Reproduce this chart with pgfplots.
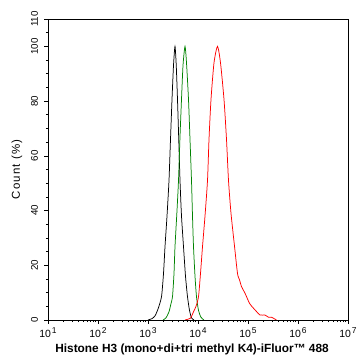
\documentclass[border=0pt]{standalone}
\usepackage{fontspec}
\setmainfont{Liberation Sans}
\usepackage{pgfplots}
\pgfplotsset{compat=1.18}
\definecolor{cgreen}{RGB}{0,130,0}
\definecolor{cred}{RGB}{255,0,0}
\newcommand\ex[1]{10\kern1pt\raisebox{0.8ex}{\fontsize{8.5}{9}\selectfont #1}}
\begin{document}
\begin{tikzpicture}
\begin{axis}[
  scale only axis, width=300bp, height=301bp,
  xmode=log, xmin=10, xmax=1e7, ymin=0, ymax=110,
  xtick={1e1,1e2,1e3,1e4,1e5,1e6,1e7},
  xticklabels={\ex{1},\ex{2},\ex{3},\ex{4},\ex{5},\ex{6},\ex{7}},
  ytick={0,20,40,60,80,100,110},
  minor ytick={5,10,...,105},
  tick align=outside, tick pos=left,
  major tick length=4bp, minor tick length=2.2bp,
  every tick/.style={black, line width=0.6pt},
  axis line style={line width=0.8pt},
  yticklabel style={rotate=90, anchor=south, font=\fontsize{9.8}{11}\selectfont},
  yticklabel shift=2.5bp,
  xticklabel style={font=\fontsize{10.5}{12}\selectfont},
  ylabel={\addfontfeatures{LetterSpace=10}Count (\%)},
  ylabel style={font=\fontsize{11.5}{13}\selectfont, yshift=2bp},
  xlabel={\textbf{Histone H3 (mono+di+tri methyl K4)-iFluor™ 488}},
  xlabel style={font=\fontsize{11.9}{14}\selectfont, yshift=1bp, xshift=-6bp},
  /pgf/number format/assume math mode=true,
  clip=true,
]
\addplot[black, line width=0.75pt, smooth, tension=0.4] coordinates {
(1000,0) (1202,0.5) (1380,1.5) (1585,4) (1862,8.5) (2042,17) (2188,26.8) (2399,38) (2630,51) (2818,66) (3020,80.6) (3236,93) (3467,100) (3673,93) (3890,80.6) (4121,66) (4365,51) (4677,38) (5129,26.8) (5623,16) (6166,8.5) (6761,3.5) (7413,0.8) (8318,0)
};
\addplot[cgreen, line width=0.75pt, smooth, tension=0.4] coordinates {
(1995,0) (2291,0.8) (2630,3) (2884,6) (3090,8.5) (3311,17) (3467,26.8) (3802,40) (4074,51) (4365,67) (4677,80.6) (5012,93) (5495,100) (5888,94) (6457,80.6) (6918,66) (7413,51) (7762,38) (8128,26.8) (8710,16) (9333,8.5) (10233,3.5) (11482,1) (13183,0)
};
\addplot[cred, line width=0.75pt, smooth, tension=0.4] coordinates {
(5495,0) (7079,0.7) (8128,3) (9120,5) (10233,8.5) (11220,17) (12303,26.8) (13804,38) (15488,51) (16596,66) (18197,80.6) (20893,94) (24547,100) (28184,94) (33113,80.6) (37154,66) (40738,51) (45709,39) (53703,27) (61660,17) (67608,14.7) (74131,12.2) (87096,9.8) (107152,6.1) (128825,4.3) (147911,3.1) (173780,1.8) (218776,1.8) (257040,1.0) (295121,1.0) (371535,0)
};
\end{axis}
\pgfresetboundingbox
\path ([shift={(-48bp,-38bp)}]current axis.south west) rectangle ([shift={(9bp,19bp)}]current axis.north east);
\end{tikzpicture}
\end{document}
